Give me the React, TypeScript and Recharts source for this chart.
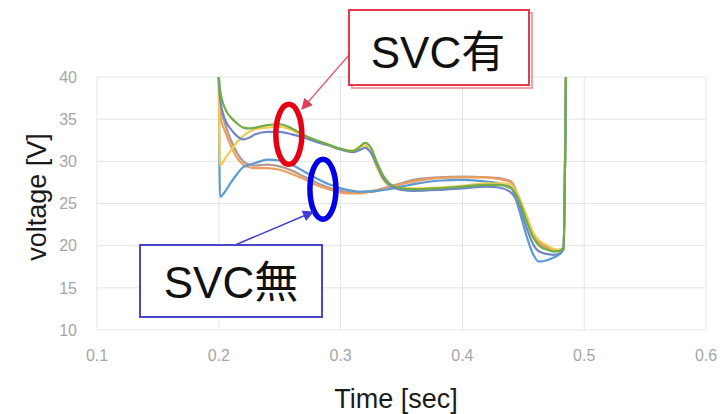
import { LineChart, Line, XAxis, YAxis, CartesianGrid, ReferenceDot } from "recharts";

// sample times [sec]
const TIME = [
  0.2, 0.201, 0.205, 0.21, 0.215, 0.22, 0.225, 0.23,
  0.24, 0.25, 0.26, 0.27, 0.28, 0.29, 0.3,
  0.31, 0.315, 0.32, 0.325, 0.33, 0.335, 0.34,
  0.35, 0.36, 0.38, 0.4, 0.42, 0.43, 0.44,
  0.447, 0.453, 0.458, 0.463, 0.47, 0.475, 0.48, 0.483, 0.485,
];

// with SVC
const WITH_GREEN = [
  40, 38.5, 36.3, 35.2, 34.5, 34.0, 33.9, 34.0,
  34.3, 34.4, 33.9, 33.1, 32.5, 32.0, 31.5,
  31.2, 31.6, 32.2, 31.6, 29.8, 28.3, 27.4,
  26.8, 26.7, 26.8, 27.0, 27.2, 27.2, 26.8,
  25.2, 22.8, 21.0, 20.0, 19.5, 19.3, 19.4, 19.8, 40,
];
const WITH_SLATE = [
  40, 37.5, 35.0, 33.8, 33.0, 32.6, 32.8, 33.2,
  33.5, 33.5, 33.2, 32.8, 32.3, 31.9, 31.4,
  31.1, 31.3, 31.6, 31.0, 29.5, 28.0, 27.2,
  26.6, 26.5, 26.6, 26.8, 27.0, 26.9, 26.3,
  24.6, 22.0, 20.2, 19.3, 19.0, 18.9, 19.1, 19.6, 40,
];
const WITH_YELLOW = [
  40, 29.5, 30.3, 31.3, 32.3, 33.0, 33.5, 33.8,
  34.0, 34.1, 33.7, 33.0, 32.4, 31.9, 31.4,
  31.3, 31.7, 31.9, 31.0, 29.2, 27.8, 27.1,
  26.8, 26.8, 26.9, 27.1, 27.4, 27.4, 27.2,
  25.6, 23.4, 21.6, 20.6, 20.0, 19.6, 19.5, 19.8, 40,
];

// without SVC
const WITHOUT_BLUE = [
  40, 25.8, 26.4, 27.5, 28.5, 29.3, 29.6, 29.8,
  30.2, 30.1, 29.6, 28.8, 28.0, 27.3, 26.8,
  26.5, 26.4, 26.4, 26.4, 26.5, 26.6, 26.7,
  27.0, 27.3, 27.7, 27.8, 27.6, 27.4, 26.9,
  24.0, 21.0, 19.0, 18.1, 18.3, 18.6, 19.0, 19.6, 40,
];
const WITHOUT_ORANGE = [
  40, 35.5, 33.6, 31.8, 30.4, 29.6, 29.3, 29.2,
  29.2, 29.0, 28.5, 27.9, 27.2, 26.7, 26.3,
  26.2, 26.2, 26.3, 26.4, 26.5, 26.7, 26.9,
  27.3, 27.6, 28.0, 28.1, 28.1, 27.9, 27.5,
  25.2, 23.0, 21.2, 20.2, 19.7, 19.4, 19.4, 19.7, 40,
];
const WITHOUT_GRAY = [
  40, 37.0, 34.5, 32.5, 31.0, 30.0, 29.6, 29.5,
  29.6, 29.4, 28.9, 28.2, 27.5, 26.9, 26.5,
  26.3, 26.3, 26.4, 26.5, 26.6, 26.8, 27.0,
  27.4, 27.8, 28.1, 28.2, 28.1, 28.0, 27.6,
  25.5, 23.3, 21.4, 20.4, 19.8, 19.5, 19.5, 19.8, 40,
];

const X_TICKS = [0.1, 0.2, 0.3, 0.4, 0.5, 0.6];
const Y_TICKS = [10, 15, 20, 25, 30, 35, 40];

const rows = TIME.map((t, i) => ({
  t,
  g: WITH_GREEN[i],
  s: WITH_SLATE[i],
  y: WITH_YELLOW[i],
  b: WITHOUT_BLUE[i],
  o: WITHOUT_ORANGE[i],
  r: WITHOUT_GRAY[i],
}));

const series = [
  { key: "r", color: "#b39a90" },
  { key: "o", color: "#ed9d5e" },
  { key: "b", color: "#5b9bd5" },
  { key: "y", color: "#f2cc4f" },
  { key: "s", color: "#6f87c6" },
  { key: "g", color: "#70ad47" },
];

const FONT = "'Liberation Sans', Arial, 'Noto Sans CJK JP', sans-serif";
const tickStyle = { fontSize: 16, fill: "#a6a6a6", fontFamily: FONT };

const ring = (color: string) => (p: { cx?: number; cy?: number }) => (
  <ellipse cx={p.cx} cy={p.cy} rx={13} ry={30} fill="none" stroke={color} strokeWidth={5.5} />
);

const App = () => {
  return (
    <div style={{ position: "absolute", left: 0, top: 0, width: 720, height: 414, background: "#fff" }}>
      <LineChart width={720} height={414} data={rows} margin={{ top: 77, right: 14, bottom: 54, left: 57 }}>
        <CartesianGrid stroke="#e4e4e4" />
        <XAxis
          type="number"
          dataKey="t"
          domain={[0.1, 0.6]}
          ticks={X_TICKS}
          tickFormatter={(v: number) => v.toFixed(1)}
          tick={tickStyle}
          tickLine={false}
          axisLine={false}
          tickMargin={14}
          height={30}
        />
        <YAxis
          domain={[10, 40]}
          ticks={Y_TICKS}
          allowDataOverflow
          tick={tickStyle}
          tickLine={false}
          axisLine={false}
          tickMargin={14}
          width={40}
        />
        {series.map((s) => (
          <Line
            key={s.key}
            type="monotone"
            dataKey={s.key}
            stroke={s.color}
            strokeWidth={2.2}
            dot={false}
            isAnimationActive={false}
          />
        ))}
        <ReferenceDot x={0.2575} y={33.2} r={13} shape={ring("#e60012")} />
        <ReferenceDot x={0.2855} y={26.7} r={13} shape={ring("#0000e6")} />
      </LineChart>

      {/* callouts and axis titles */}
      <svg width={720} height={414} style={{ position: "absolute", left: 0, top: 0, pointerEvents: "none" }}>
        <defs>
          <marker id="headRed" viewBox="0 0 10 10" refX="9" refY="5" markerWidth="8" markerHeight="8" orient="auto">
            <path d="M0,0 L10,5 L0,10 z" fill="#e0405a" />
          </marker>
          <marker id="headBlue" viewBox="0 0 10 10" refX="9" refY="5" markerWidth="8" markerHeight="8" orient="auto">
            <path d="M0,0 L10,5 L0,10 z" fill="#3d3dd8" />
          </marker>
        </defs>

        <line x1={349} y1={55} x2={302} y2={109} stroke="#e0607a" strokeWidth={1.4} markerEnd="url(#headRed)" />
        <rect x={352} y={13} width={180} height={75} fill="none" stroke="#f2a0aa" strokeWidth={2} />
        <rect x={349} y={10} width={180} height={75} fill="#fff" stroke="#e8384f" strokeWidth={2} />
        <text x={438} y={68} textAnchor="middle" fontSize={44} fill="#111" fontFamily={FONT}>SVC有</text>

        <line x1={235} y1={245} x2={313} y2={212} stroke="#4040d0" strokeWidth={1.4} markerEnd="url(#headBlue)" />
        <rect x={140} y={245} width={182} height={72} fill="#fff" stroke="#4848c8" strokeWidth={2} />
        <text x={231} y={298} textAnchor="middle" fontSize={44} fill="#111" fontFamily={FONT}>SVC無</text>

        <text x={396} y={408} textAnchor="middle" fontSize={27} fill="#1a1a1a" fontFamily={FONT}>Time [sec]</text>
        <text
          transform="translate(46,197) rotate(-90)"
          textAnchor="middle"
          fontSize={27}
          fill="#1a1a1a"
          fontFamily={FONT}
        >
          voltage [V]
        </text>
      </svg>
    </div>
  );
};

export default App;
